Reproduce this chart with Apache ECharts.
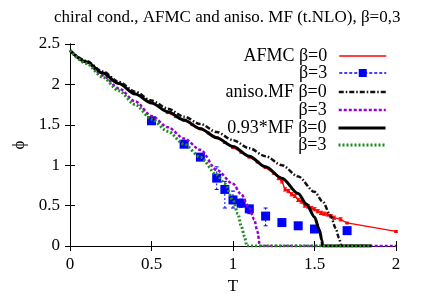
<!DOCTYPE html>
<html><head><meta charset="utf-8">
<script src="https://cdn.jsdelivr.net/npm/echarts@6/dist/echarts.min.js"></script>
<style>html,body{margin:0;padding:0;background:#fff}#c{width:428px;height:300px}</style>
</head><body><div id="c"></div>
<script>
// ---- data ----
const redT   = [0.6,0.65,0.7,0.75,0.8,0.85,0.9,0.95,1.0,1.05,1.1,1.15,1.2,1.25,1.28,1.3,1.32,1.34,1.36,1.38,1.4,1.42,1.44,1.46,1.48,1.5,1.52,1.54,1.56,1.58,1.6,1.62,1.66,1.7,2.0];
const redPhi = [1.65,1.6,1.555,1.5,1.45,1.4,1.34,1.28,1.22,1.16,1.1,1.04,0.97,0.9,0.84,0.8,0.7,0.68,0.64,0.62,0.57,0.55,0.5,0.49,0.47,0.455,0.43,0.41,0.4,0.39,0.37,0.35,0.33,0.285,0.18];
const redErr = [0.01,0.01,0.01,0.01,0.01,0.01,0.01,0.01,0.01,0.01,0.01,0.01,0.01,0.01,0.02,0.02,0.02,0.02,0.02,0.02,0.02,0.02,0.02,0.02,0.02,0.02,0.02,0.02,0.02,0.02,0.02,0.02,0.02,0.01,0.01];

const blueT   = [0.5,0.7,0.8,0.9,0.95,1.0,1.05,1.1,1.2,1.3,1.4,1.5,1.7];
const bluePhi = [1.55,1.26,1.1,0.84,0.7,0.57,0.53,0.46,0.37,0.29,0.25,0.21,0.19];
const blueLo  = [1.52,1.24,1.07,0.7,0.47,0.47,0.48,0.4,0.25,0.25,0.23,0.19,0.17];
const blueHi  = [1.58,1.28,1.13,0.98,0.8,0.68,0.58,0.5,0.47,0.33,0.27,0.23,0.21];

const anisoB0T   = [0,0.1,0.2,0.3,0.4,0.5,0.6,0.7,0.8,0.9,1.0,1.1,1.2,1.3,1.4,1.5,1.55,1.6,1.63,1.65,1.665,1.85];
const anisoB0Phi = [2.42,2.29,2.16,2.03,1.91,1.8,1.7,1.6,1.51,1.41,1.31,1.21,1.11,1.0,0.86,0.67,0.55,0.37,0.22,0.1,0,0];

const anisoB3T   = [0,0.1,0.2,0.3,0.4,0.5,0.6,0.7,0.8,0.9,1.0,1.05,1.1,1.13,1.15,1.165,2.0];
const anisoB3Phi = [2.42,2.27,2.11,1.95,1.79,1.61,1.47,1.33,1.19,0.94,0.77,0.64,0.47,0.33,0.18,0,0];

const mfB0T   = [0,0.1,0.2,0.3,0.4,0.5,0.6,0.7,0.8,0.9,1.0,1.1,1.2,1.3,1.4,1.45,1.5,1.53,1.545,1.55,1.85];
const mfB0Phi = [2.42,2.28,2.14,2.01,1.88,1.77,1.66,1.56,1.45,1.34,1.23,1.11,0.98,0.84,0.65,0.52,0.36,0.2,0.07,0,0];

const mfB3T   = [0,0.1,0.2,0.3,0.4,0.5,0.6,0.7,0.8,0.9,0.95,1.0,1.03,1.05,1.07,1.085,1.85];
const mfB3Phi = [2.42,2.26,2.09,1.92,1.75,1.57,1.42,1.26,1.1,0.88,0.77,0.57,0.4,0.25,0.12,0,0];

const xTicks = [0,0.5,1,1.5,2];
const yTicks = [0,0.5,1,1.5,2,2.5];

const names = ['AFMC β=0','AFMC β=3','aniso.MF β=0','aniso.MF β=3','0.93*MF β=0','0.93*MF β=3'];
const shown = ['AFMC β=0','β=3','aniso.MF β=0','β=3','0.93*MF β=0','β=3'];

const zip = (a,b) => a.map((v,i)=>[v,b[i]]);
const FONT = 'Liberation Serif';

function errItem(color, dash){
  return function(params, api){
    const x = api.value(0), lo = api.value(1), hi = api.value(2);
    const p1 = api.coord([x, lo]), p2 = api.coord([x, hi]);
    const w = 2;
    const st = {stroke: color, lineWidth: 1, lineDash: dash};
    return {type:'group', children:[
      {type:'line', shape:{x1:p1[0],y1:p1[1],x2:p2[0],y2:p2[1]}, style:st},
      {type:'line', shape:{x1:p1[0]-w,y1:p1[1],x2:p1[0]+w,y2:p1[1]}, style:{stroke:color,lineWidth:1}},
      {type:'line', shape:{x1:p2[0]-w,y1:p2[1],x2:p2[0]+w,y2:p2[1]}, style:{stroke:color,lineWidth:1}}
    ]};
  };
}

const rowY = [54,72,90,108,126,143];
const hide = {opacity:0};
const legendStyles = [
  {icon:'inherit', lineStyle:{color:'#ff0000',width:1.5}, itemStyle:hide},
  {icon:'inherit', lineStyle:{color:'#0000ff',width:1.5,type:[3,2],opacity:1}},
  {icon:'inherit', lineStyle:{color:'#111',width:2.5,type:[5,2,1.5,2]}, itemStyle:hide},
  {icon:'inherit', lineStyle:{color:'#9400d3',width:2.5,type:[3,2]}, itemStyle:hide},
  {icon:'inherit', lineStyle:{color:'#000',width:3}, itemStyle:hide},
  {icon:'inherit', lineStyle:{color:'#1f8c1f',width:3,type:[2,2]}, itemStyle:hide}
];
const legends = names.map((n,i)=>({
  top: rowY[i]-(i===1?8:7), right: 41, orient:'horizontal', align:'right', padding:0,
  itemWidth: 47, itemHeight: (i===1?10:14), selectedMode:false,
  data:[Object.assign({name:n}, legendStyles[i])],
  formatter: ()=>shown[i],
  textStyle:{fontFamily:FONT, fontSize:18, color:'#000', padding:[0,7,0,0]}
}));

const axLabel = {fontFamily:FONT, fontSize:17, color:'#000'};
const axLine = {lineStyle:{color:'#000',width:1}};
const tick = {inside:true, length:5, lineStyle:{color:'#000'}};

const option = {
  animation:false,
  title:{text:'chiral cond., AFMC and aniso. MF (t.NLO), β=0,3', left:49, top:4,
    textStyle:{fontFamily:FONT, fontSize:17, fontWeight:'normal', color:'#000'}},
  legend: legends,
  grid:{left:70, right:32, top:44, bottom:49, containLabel:false},
  xAxis:[
    {type:'value', min:0, max:2, interval:0.5, axisLine:axLine, axisTick:tick,
     splitLine:{show:false}, axisLabel:Object.assign({margin:10},axLabel),
     name:'T', nameLocation:'middle', nameGap:32, nameTextStyle:axLabel},
    {type:'value', position:'top', min:0, max:2, interval:0.5, axisLine:axLine, axisTick:tick,
     axisLabel:{show:false}, splitLine:{show:false}}
  ],
  yAxis:[
    {type:'value', min:0, max:2.5, interval:0.5, axisLine:axLine, axisTick:tick,
     splitLine:{show:false}, axisLabel:Object.assign({margin:10},axLabel),
     name:'ϕ', nameLocation:'middle', nameGap:41, nameRotate:90, nameTextStyle:axLabel},
    {type:'value', position:'right', min:0, max:2.5, interval:0.5, axisLine:axLine, axisTick:tick,
     axisLabel:{show:false}, splitLine:{show:false}}
  ],
  series:[
    {name:names[0], type:'line', data:zip(redT,redPhi), symbol:'circle', symbolSize:3,
     lineStyle:{color:'#ff0000',width:1.3}, itemStyle:{color:'#ff0000'}, z:2},
    {type:'custom', renderItem:errItem('#ff0000',null), data:redT.map((t,i)=>[t,redPhi[i]-redErr[i],redPhi[i]+redErr[i]]),
     encode:{x:0,y:[1,2]}, z:2, silent:true},
    {type:'custom', renderItem:errItem('#0000ff',[2,2]), data:blueT.map((t,i)=>[t,blueLo[i],blueHi[i]]),
     encode:{x:0,y:[1,2]}, z:3, silent:true},
    {name:names[1], type:'line', data:zip(blueT,bluePhi), symbol:'rect', symbolSize:9,
     lineStyle:{opacity:0, color:'#0000ff'}, itemStyle:{color:'#0000ff'}, z:3},
    {name:names[2], type:'line', data:zip(anisoB0T,anisoB0Phi), symbol:'none', smooth:0.3, smoothMonotone:'x',
     lineStyle:{color:'#111',width:2.5,type:[5,2,1.5,2]}, itemStyle:{color:'#111'}, z:4},
    {name:names[3], type:'line', data:zip(anisoB3T,anisoB3Phi), symbol:'none', smooth:0.3, smoothMonotone:'x',
     lineStyle:{color:'#9400d3',width:2.5,type:[3,2]}, itemStyle:{color:'#9400d3'}, z:5},
    {name:names[4], type:'line', data:zip(mfB0T,mfB0Phi), symbol:'none', smooth:0.3, smoothMonotone:'x',
     lineStyle:{color:'#000',width:3}, itemStyle:{color:'#000'}, z:6},
    {name:names[5], type:'line', data:zip(mfB3T,mfB3Phi), symbol:'none', smooth:0.3, smoothMonotone:'x',
     lineStyle:{color:'#1f8c1f',width:3,type:[2,2]}, itemStyle:{color:'#1f8c1f'}, z:7}
  ]
};
echarts.init(document.getElementById('c')).setOption(option);
</script></body></html>
